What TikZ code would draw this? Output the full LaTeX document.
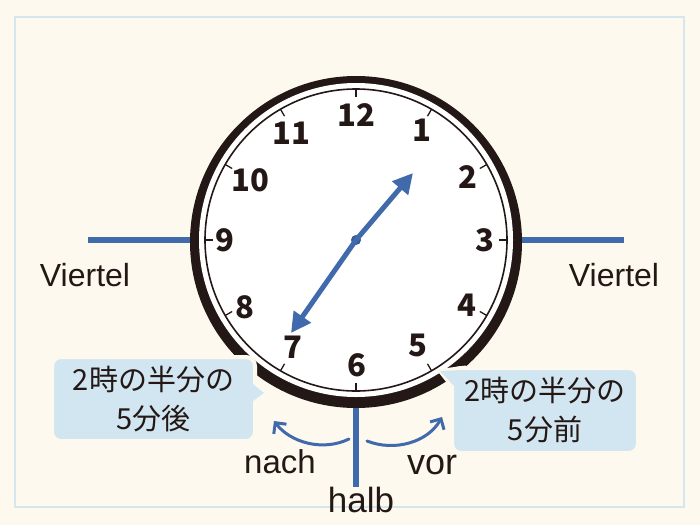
\documentclass[tikz,border=0pt]{standalone}
\usepackage{fontspec}
\setmainfont{Liberation Sans}
\newfontfamily\cjk{Noto Sans CJK JP}
\usetikzlibrary{arrows.meta}

\definecolor{cream}{RGB}{254,249,238}
\definecolor{framecol}{RGB}{214,230,236}
\definecolor{handblue}{RGB}{64,106,172}
\definecolor{bubble}{RGB}{210,230,241}
\definecolor{ink}{RGB}{35,24,21}

\begin{document}
\begin{tikzpicture}[x=1pt, y=-1pt]
    % Define the styles
    \tikzstyle{num} = [font=\cjk\bfseries\fontsize{31}{31}\selectfont, text=ink, inner sep=0pt]
    \tikzstyle{word} = [font=\fontsize{32}{32}\selectfont, text=ink, inner sep=0pt]
    \tikzstyle{bubblebox} = [fill=bubble, draw=cream, line width=4pt, rounded corners=9pt, align=center, font=\cjk\fontsize{29}{39}\selectfont, text=ink, inner sep=0pt]
    \tikzstyle{bar} = [draw=handblue, line width=6pt]
    \tikzstyle{hand} = [draw=handblue, line width=5pt, -{Triangle[length=20pt, width=20pt]}]
    \tikzstyle{turn} = [draw=handblue, line width=3pt, line cap=round, -{Straight Barb[length=8pt, width=16pt]}]

    % Background and frame
    \fill[cream] (0,0) rectangle (700,525);
    \draw[framecol, line width=2pt] (15,17) rectangle (684,507);

    % Place the text labels
    \node [word] (viertelL) at (85,275) {Viertel};
    \node [word] (viertelR) at (614,275) {Viertel};
    \node [word, font=\fontsize{35}{35}\selectfont] (halb) at (361,500) {halb};
    \node [word, font=\fontsize{33}{33}\selectfont] (nach) at (280,462) {nach};
    \node [word, font=\fontsize{36}{36}\selectfont] (vor) at (432,465) {vor};

    % Blue bars
    \coordinate (leftend) at (88,240);
    \coordinate (rightend) at (624,240);
    \node [circle, minimum size=332pt, inner sep=0pt] (rim) at (356,242) {};
    \draw [bar] (leftend) -- (leftend -| rim.west);
    \draw [bar] (rightend) -- (rightend -| rim.east);
    \draw [bar] (rim.south) -- (rim.south |- halb.north);

    % Clock face
    \fill [ink] (rim.center) circle (166pt);
    \fill [white] (356,240) circle (157pt);
    \draw [ink, line width=1.6pt] (356,240) circle (151pt);
    \foreach \a in {0,30,...,330}
        \draw [ink, line width=1.3pt] ({356+151*sin(\a)},{240-151*cos(\a)}) -- ({356+143*sin(\a)},{240-143*cos(\a)});

    % Place the numbers
    \node [num] (n12) at (356,115) {12};
    \node [num] (n1) at (422,130) {1};
    \node [num] (n2) at (468,177) {2};
    \node [num] (n3) at (485,240) {3};
    \node [num] (n4) at (467,305) {4};
    \node [num] (n5) at (418,345) {5};
    \node [num] (n6) at (357,365) {6};
    \node [num] (n7) at (293,347) {7};
    \node [num] (n8) at (245,307) {8};
    \node [num] (n9) at (225,240) {9};
    \node [num] (n10) at (250,180) {10};
    \node [num] (n11) at (291,133) {11};

    % Hands
    \node [circle, fill=handblue!85!black, inner sep=0pt, minimum size=10pt] (hub) at (356,240) {};
    \coordinate (hourtip) at (413,173);
    \coordinate (minutetip) at (291,333);
    \draw [hand] (hub.center) -- (hourtip);
    \draw [hand] (hub.center) -- (minutetip);

    % Speech bubbles
    \fill [bubble, draw=cream, line width=4pt] (255,382) -- (264,393) -- (255,403) -- cycle;
    \fill [bubble, draw=cream, line width=4pt] (440,371) -- (462,368) -- (452,386) -- cycle;
    \node [bubblebox, minimum width=203pt, minimum height=84pt] (after) at (153.5,399) {2時の半分の\\5分後};
    \node [bubblebox, minimum width=186pt, minimum height=85pt] (before) at (545,410.5) {2時の半分の\\5分前};
    \fill [bubble] (253,384) -- (264,393) -- (253,401) -- cycle;
    \fill [bubble] (440,371) -- (462,370) -- (454,386) -- cycle;

    % Curved arrows
    \coordinate (nachstart) at (349,439);
    \coordinate (nachtip) at (274,421);
    \coordinate (vorstart) at (367,441);
    \coordinate (vortip) at (442,417);
    \draw [turn] (nachstart) .. controls (322,452) and (290,442) .. (nachtip);
    \draw [turn] (vorstart) .. controls (395,452) and (428,442) .. (vortip);
\end{tikzpicture}
\end{document}
